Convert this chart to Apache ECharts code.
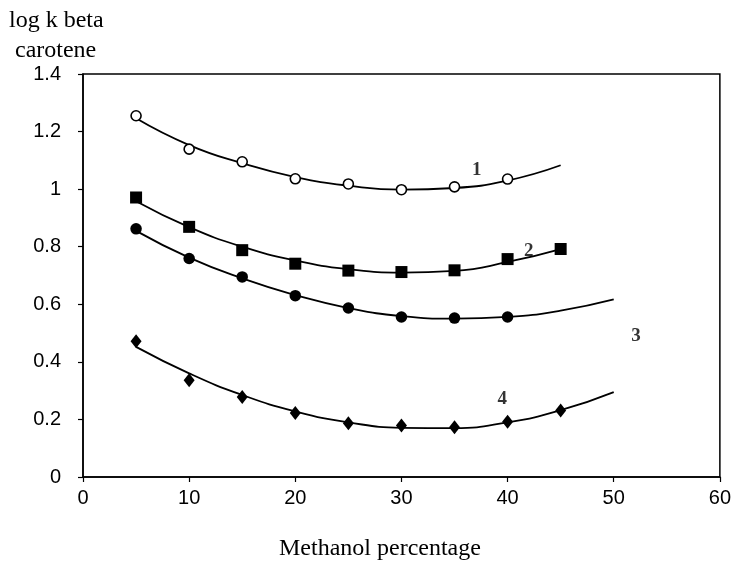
<!DOCTYPE html>
<html>
<head>
<meta charset="utf-8">
<script src="https://cdn.jsdelivr.net/npm/echarts@6/dist/echarts.min.js"></script>
<style>
  html, body { margin: 0; padding: 0; background: #fff; }
  #chart { width: 734px; height: 562px; }
</style>
</head>
<body>
<div id="chart"></div>
<script>
// methanol percentage of the measured points
var xPoints = [5, 10, 15, 20, 25, 30, 35, 40, 45];
// measured log k, one list per curve
var pts1 = [1.255, 1.139, 1.095, 1.036, 1.018, 0.998, 1.008, 1.035];
var pts2 = [0.971, 0.869, 0.788, 0.741, 0.717, 0.712, 0.718, 0.757, 0.792];
var pts3 = [0.862, 0.759, 0.695, 0.63, 0.587, 0.556, 0.552, 0.556];
var pts4 = [0.472, 0.336, 0.278, 0.222, 0.187, 0.179, 0.173, 0.192, 0.231];

// trend lines
var xCurve = [5, 10, 15, 20, 25, 30, 35, 40, 45, 50];
var fit1 = [1.246, 1.153, 1.09, 1.042, 1.012, 0.998, 1.004, 1.03, 1.083];
var fit2 = [0.958, 0.868, 0.8, 0.752, 0.722, 0.71, 0.716, 0.747, 0.792];
var fit3 = [0.855, 0.762, 0.69, 0.632, 0.587, 0.559, 0.55, 0.556, 0.578, 0.617];
var fit4 = [0.452, 0.36, 0.285, 0.228, 0.19, 0.171, 0.17, 0.19, 0.232, 0.295];

// curve numbers and where they sit
var curveNames = ["1", "2", "3", "4"];
var nameX = [37.1, 42.0, 52.1, 39.5];
var nameY = [1.066, 0.786, 0.49, 0.272];

function pairs(xs, ys) {
  var out = [];
  for (var i = 0; i < ys.length; i++) out.push([xs[i], ys[i]]);
  return out;
}

var serif = "Liberation Serif";
var sans = "Liberation Sans";

var chart = echarts.init(document.getElementById("chart"));

var curveStyle = { color: "#000", width: 1.8 };
function curve(ys) {
  return {
    type: "line",
    data: pairs(xCurve, ys),
    smooth: 0.5,
    showSymbol: false,
    lineStyle: curveStyle,
    silent: true,
    z: 2
  };
}
function marks(ys, symbol, size, fill) {
  return {
    type: "scatter",
    data: pairs(xPoints, ys),
    symbol: symbol,
    symbolSize: size,
    itemStyle: {
      color: fill,
      opacity: 1,
      borderColor: "#000",
      borderWidth: fill === "#fff" ? 1.6 : 0
    },
    z: 3
  };
}

var labelData = [];
for (var i = 0; i < curveNames.length; i++) {
  labelData.push({ value: [nameX[i], nameY[i]], name: curveNames[i] });
}

chart.setOption({
  animation: false,
  grid: {
    left: 83,
    right: 14,
    top: 74,
    bottom: 85,
    show: true,
    borderColor: "#000",
    borderWidth: 1.5
  },
  graphic: [
    {
      type: "text",
      left: 9,
      top: 9,
      style: { text: "log k beta", font: "24px " + serif, fill: "#000" }
    },
    {
      type: "text",
      left: 15,
      top: 39,
      style: { text: "carotene", font: "24px " + serif, fill: "#000" }
    },
    {
      type: "text",
      left: 279,
      top: 537,
      style: { text: "Methanol percentage", font: "24px " + serif, fill: "#000" }
    }
  ],
  xAxis: {
    type: "value",
    min: 0,
    max: 60,
    interval: 10,
    axisLine: { lineStyle: { color: "#000", width: 1.5 } },
    axisTick: { show: true, length: 5, lineStyle: { color: "#000", width: 1.2 } },
    axisLabel: { fontFamily: sans, fontSize: 20, color: "#000", margin: 11 },
    splitLine: { show: false }
  },
  yAxis: {
    type: "value",
    min: 0,
    max: 1.4,
    interval: 0.2,
    axisLine: { show: true, lineStyle: { color: "#000", width: 1.5 } },
    axisTick: { show: true, length: 5, lineStyle: { color: "#000", width: 1.2 } },
    axisLabel: { fontFamily: sans, fontSize: 20, color: "#000", margin: 22 },
    splitLine: { show: false }
  },
  series: [
    curve(fit1),
    curve(fit2),
    curve(fit3),
    curve(fit4),
    marks(pts1, "circle", 10, "#fff"),
    marks(pts2, "rect", 12, "#000"),
    marks(pts3, "circle", 11.5, "#000"),
    marks(pts4, "diamond", [11, 14], "#000"),
    {
      type: "scatter",
      data: labelData,
      symbolSize: 0,
      silent: true,
      label: {
        show: true,
        position: "inside",
        formatter: "{b}",
        fontFamily: serif,
        fontWeight: "bold",
        fontSize: 19,
        color: "#000"
      }
    }
  ]
});
</script>
</body>
</html>
